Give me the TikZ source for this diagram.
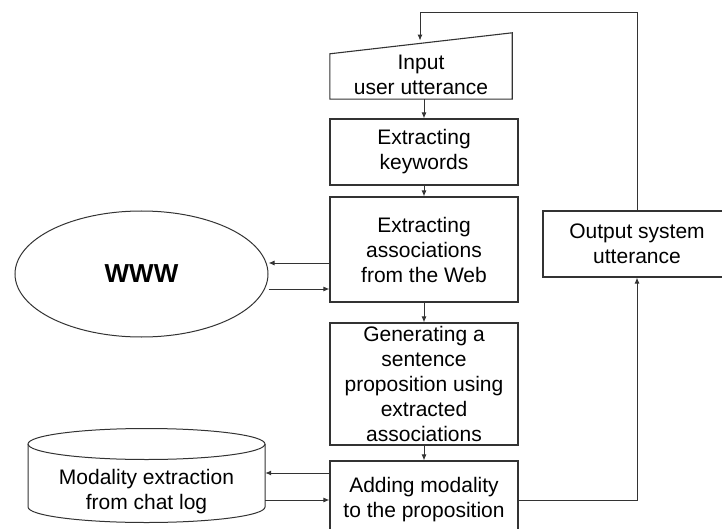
\documentclass[tikz,border=0pt]{standalone}
\usepackage{fontspec}
\setmainfont{Liberation Sans}
\usetikzlibrary{arrows.meta,shapes.geometric}

\tikzset{
  box/.style={draw, line width=1.1pt, minimum width=188pt, align=center, inner sep=0pt},
  arr/.style={-{Latex[length=6pt,width=5pt]}, line width=1pt},
}

\begin{document}
\begin{tikzpicture}[x=1pt,y=-1pt, font=\fontsize{21}{25}\selectfont, draw=black!80]
\useasboundingbox (0,0) rectangle (722,529);

% main column
\node[inner sep=0pt, minimum width=182pt, minimum height=48pt, align=center] (input) at (421,75) {Input\\user utterance};
\draw[line width=1.1pt] (input.south west) -- (input.south east) -- ([yshift=18pt]input.north east) -- ([yshift=-3pt]input.north west) -- cycle;
\node[box, minimum height=66pt] (kw) at (424,152) {Extracting\\keywords};
\node[box, minimum height=105pt] (assoc) at (424,249.5) {Extracting\\associations\\from the Web};
\node[box, minimum height=122pt] (gen) at (424,384) {Generating a\\sentence\\proposition using\\extracted\\associations};
\node[box, minimum height=78pt] (adding) at (424,500) {Adding modality\\to the proposition};
\node[box, minimum height=66pt] (output) at (637,244) {Output system\\utterance};

% side nodes
\node[ellipse, draw, line width=1pt, inner sep=0pt, minimum width=253pt, minimum height=126pt,
      font=\fontsize{26}{30}\selectfont\bfseries] (www) at (141.5,274) {WWW};
\draw[line width=1pt] (28,444) -- (28,507) arc[start angle=180, end angle=360, x radius=118.5pt, y radius=15.5pt] -- (265,444);
\draw[line width=1pt] (146.5,444) ellipse[x radius=118.5pt, y radius=15.5pt];
\node[inner sep=0pt, minimum width=237pt, align=center] (chatlog) at (146.5,492) {Modality extraction\\from chat log};

% connectors
\draw[arr] (input.south -| kw.north) -- (kw.north);
\foreach \a/\b in {kw/assoc,assoc/gen,gen/adding}
\draw[arr] (\a) -- (\b);

\coordinate (w1) at ([yshift=-13.5pt]assoc.west);
\coordinate (w2) at ([yshift=-39.5pt]assoc.west);
\draw[arr] (w1) -- (w1 -| www.east);
\draw[arr] (w2 -| www.east) -- (w2);

\coordinate (c1) at ([yshift=27pt]adding.west);
\coordinate (c2) at (adding.west);
\draw[arr] (c1) -- (c1 -| chatlog.east);
\draw[arr] (c2 -| chatlog.east) -- (c2);

\coordinate (loop) at (420,13);
\coordinate (intop) at (420,40.6);
\draw[arr] (adding.east) -| (output.south);
\draw[arr] (output.north) |- (loop) -- (intop);

\end{tikzpicture}
\end{document}
